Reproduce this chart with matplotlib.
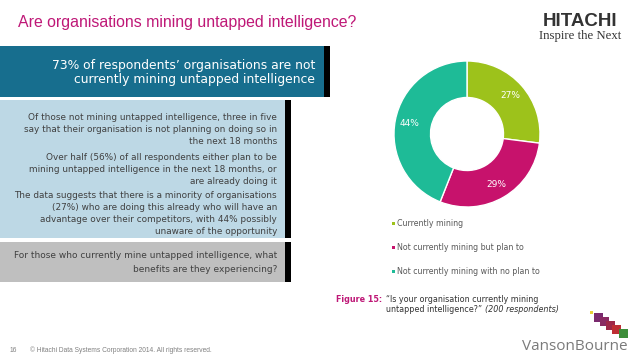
import numpy as np
import matplotlib.pyplot as plt
from matplotlib.patches import Rectangle

# donut data
categories = ['Currently mining', 'Not currently mining but plan to', 'Not currently mining with no plan to']
shares = [27, 29, 44]
colors = ['#9DC21B', '#C7126C', '#1EBB97']

title = 'Are organisations mining untapped intelligence?'
headline = ['73% of respondents\u2019 organisations are not', 'currently mining untapped intelligence']
findings = [
    ['Of those not mining untapped intelligence, three in five',
     'say that their organisation is not planning on doing so in',
     'the next 18 months'],
    ['Over half (56%) of all respondents either plan to be',
     'mining untapped intelligence in the next 18 months, or',
     'are already doing it'],
    ['The data suggests that there is a minority of organisations',
     '(27%) who are doing this already who will have an',
     'advantage over their competitors, with 44% possibly',
     'unaware of the opportunity'],
]
question = ['For those who currently mine untapped intelligence, what',
            'benefits are they experiencing?']

W, H = 638, 359
fig = plt.figure(figsize=(W / 100, H / 100), dpi=100)
bg = fig.add_axes([0, 0, 1, 1])
bg.set_xlim(0, W)
bg.set_ylim(H, 0)
bg.axis('off')

magenta = '#BF1877'
bg.text(18, 23, title, fontsize=11.4, color=magenta, family='Liberation Sans', va='center')

# headline box
bg.add_patch(Rectangle((0, 46), 324, 51, color='#176E8E', lw=0))
bg.add_patch(Rectangle((324, 46), 6, 51, color='black', lw=0))
for i, line in enumerate(headline):
    bg.text(315, 65 + i * 15, line, fontsize=8.9, color='white', ha='right', va='center')

# findings box
bg.add_patch(Rectangle((0, 100), 285, 138, color='#BDD8E5', lw=0))
bg.add_patch(Rectangle((285, 100), 6, 138, color='black', lw=0))
starts = [117, 157, 195]
for para, y0 in zip(findings, starts):
    for i, line in enumerate(para):
        bg.text(277, y0 + i * 12, line, fontsize=6.4, color='#404040', ha='right', va='center')

# question box
bg.add_patch(Rectangle((0, 242), 285, 40, color='#BFBFBF', lw=0))
bg.add_patch(Rectangle((285, 242), 6, 40, color='black', lw=0))
for i, line in enumerate(question):
    bg.text(277, 256 + i * 13, line, fontsize=6.5, color='#404040', ha='right', va='center')

# footer
bg.text(10, 350, '16', fontsize=4.8, color='#808080', va='center', family='Liberation Sans')
bg.text(30, 350, '\u00a9 Hitachi Data Systems Corporation 2014. All rights reserved.',
        fontsize=4.8, color='#808080', va='center', family='Liberation Sans')

# Hitachi logo
bg.text(580, 22, 'HITACHI', fontsize=13.5, fontweight='bold', color='#333333',
        ha='center', va='center', family='Liberation Sans')
bg.text(580, 36, 'Inspire the Next', fontsize=9.2, color='#333333',
        ha='center', va='center', family='Liberation Serif')

# donut
cx, cy, r = 467, 134, 73
ax = fig.add_axes([(cx - r) / W, 1 - (cy + r) / H, 2 * r / W, 2 * r / H])
wedges, _ = ax.pie(shares, colors=colors, startangle=90, counterclock=False,
                   wedgeprops=dict(width=0.5, edgecolor='white', linewidth=1))
ax.set_xlim(-1, 1)
ax.set_ylim(-1, 1)
ax.set_aspect('equal')
ax.axis('off')
for w, v in zip(wedges, shares):
    ang = np.deg2rad((w.theta1 + w.theta2) / 2)
    ax.text(0.8 * np.cos(ang), 0.8 * np.sin(ang), f'{v}%', fontsize=6.5,
            color='white', ha='center', va='center')

# legend
for i, (lab, c) in enumerate(zip(categories, colors)):
    y = 223 + i * 24
    bg.add_patch(Rectangle((391.5, y - 1.5), 3, 3, color=c, lw=0))
    bg.text(397, y, lab, fontsize=5.7, color='#595959', va='center')

# caption
cap = 5.8
bg.text(336, 300, 'Figure 15:', fontsize=cap, fontweight='bold', color=magenta, va='center')
bg.text(386, 300, '\u201cIs your organisation currently mining', fontsize=cap, color='#333333', va='center')
t = bg.text(386, 310, 'untapped intelligence?\u201d ', fontsize=cap, color='#333333', va='center')
bg.annotate('(200 respondents)', xycoords=t, xy=(1, 0.5), va='center', fontsize=cap,
            style='italic', color='#333333')

# Vanson Bourne logo
bg.text(575, 346, 'VansonBourne', fontsize=11, color='#7A7A7A', ha='center', va='center',
        family='Open Sans')
bg.add_patch(Rectangle((590, 311), 3, 3, color='#E8D23A', lw=0))
sq = [(594, 313, '#7A2A6E'), (600, 317, '#8A2A62'), (606, 321, '#9E2848'),
      (612, 325, '#BE2E34'), (619, 329, '#3E8E3A')]
for x, y, c in sq:
    bg.add_patch(Rectangle((x, y), 9, 9, color=c, lw=0))

fig.savefig('out.png', dpi=100)
